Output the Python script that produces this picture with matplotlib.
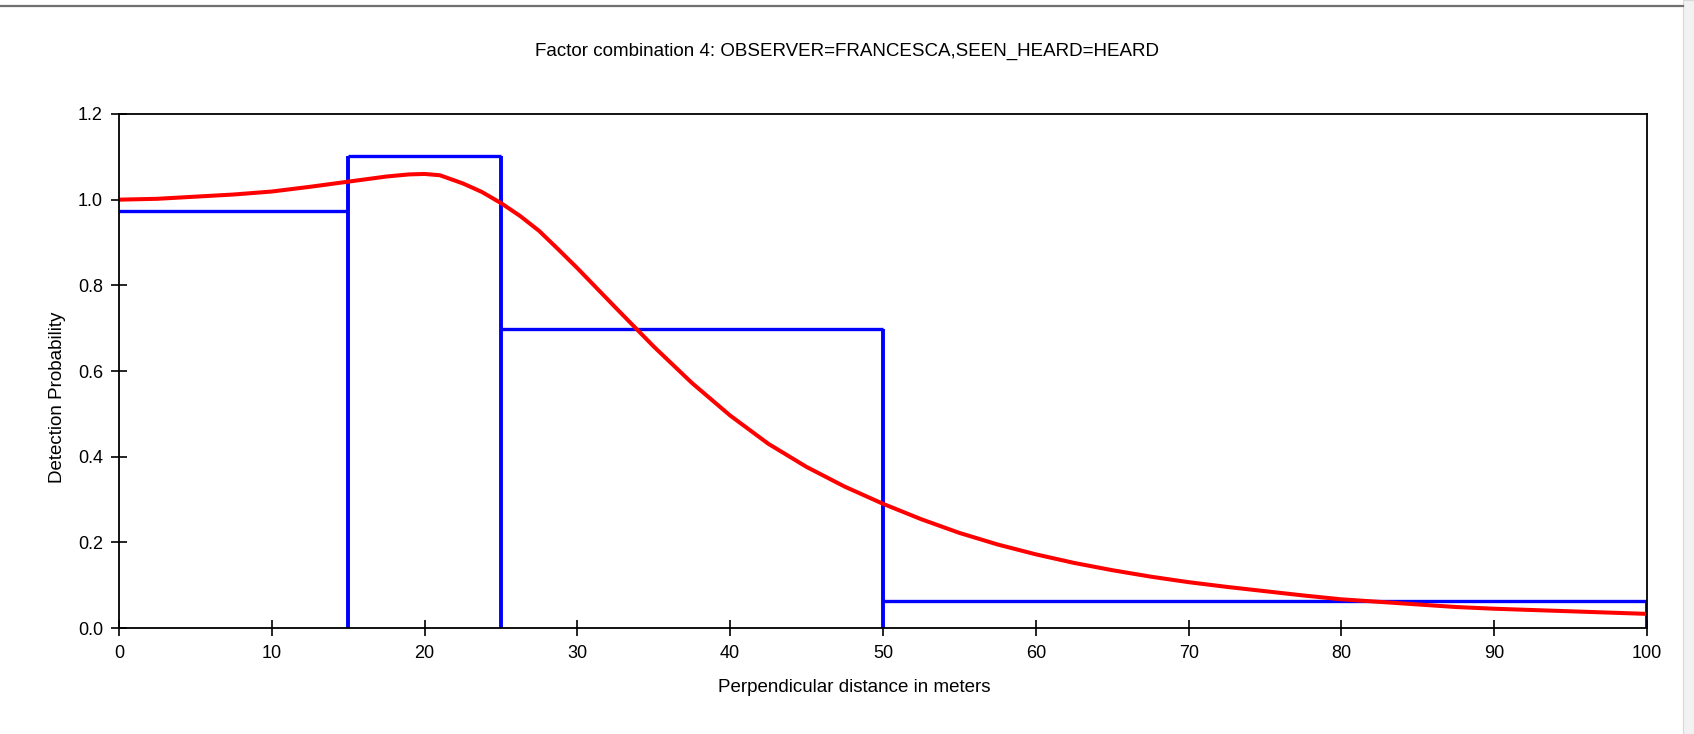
import numpy as np
import matplotlib.pyplot as plt
from matplotlib.lines import Line2D

plt.rcParams['font.family'] = ['Liberation Sans', 'DejaVu Sans']

# histogram of observed distances (scaled), bin edges in meters
bin_edges = [0, 15, 25, 50, 100]
bin_heights = [0.974, 1.102, 0.697, 0.062]

# fitted detection function
dist = [0, 2.5, 5, 7.5, 10, 12.5, 15, 17.5, 19, 20, 21, 22.5, 23.75, 25, 26.25,
        27.5, 28.75, 30, 32.5, 35, 37.5, 40, 42.5, 45, 47.5, 50, 52.5, 55, 57.5,
        60, 62.5, 65, 67.5, 70, 72.5, 75, 77.5, 80, 82.5, 85, 87.5, 90, 92.5,
        95, 97.5, 100]
prob = [1.000, 1.002, 1.007, 1.012, 1.019, 1.030, 1.042, 1.054, 1.059, 1.060, 1.057, 1.038,
        1.018, 0.992, 0.962, 0.927, 0.884, 0.840, 0.748, 0.657, 0.572, 0.496, 0.430,
        0.376, 0.330, 0.290, 0.254, 0.222, 0.195, 0.172, 0.152, 0.135, 0.120, 0.107,
        0.096, 0.086, 0.076, 0.067, 0.061, 0.055, 0.049, 0.045, 0.042, 0.039, 0.036,
        0.033]

fig = plt.figure(figsize=(16.94, 7.34), dpi=100)
ax = fig.add_axes([0.0702, 0.1444, 0.9021, 0.7003])

# bar outlines: tops and the edges between bars
edges = np.array(bin_edges)
heights = np.array(bin_heights)
side = np.maximum(heights, np.append(heights[1:], 0))
ax.hlines(heights, edges[:-1], edges[1:], color='#0000ff', linewidth=2.4, zorder=2)
ax.vlines(edges[1:], 0, side, color='#0000ff', linewidth=2.8, zorder=2)

ax.plot(dist, prob, color='#ff0000', linewidth=2.9, zorder=3,
        solid_joinstyle='round')

ax.set_xlim(0, 100)
ax.set_ylim(0, 1.2)
ax.set_xticks(np.arange(0, 101, 10))
ax.set_yticks(np.arange(0, 1.21, 0.2))
ax.set_yticklabels(['%.1f' % v for v in np.arange(0, 1.21, 0.2)])
ax.tick_params(direction='inout', length=11, width=1.2, labelsize=13, pad=7)
ax.tick_params(axis='y', pad=6)
for s in ax.spines.values():
    s.set_linewidth(1.3)
    s.set_zorder(4)

fig.text(0.5, 0.9305, 'Factor combination 4: OBSERVER=FRANCESCA,SEEN_HEARD=HEARD',
         ha='center', va='center', fontsize=13.5)
fig.text(0.504, 0.064, 'Perpendicular distance in meters', ha='center', va='center', fontsize=13.5)
fig.text(0.0342, 0.459, 'Detection Probability', rotation=90, ha='center', va='center', fontsize=13.5)

# window border at the top and right edge
fig.add_artist(Line2D([0, 0.9935], [0.9918, 0.9918], transform=fig.transFigure,
                      color='#707070', linewidth=1.6))
fig.patches.append(plt.Rectangle((0.9935, 0), 0.0065, 1, transform=fig.transFigure,
                                 facecolor='#f2f2f2', edgecolor='#d8d8d8', linewidth=0.8))

fig.savefig('out.png', dpi=100)
